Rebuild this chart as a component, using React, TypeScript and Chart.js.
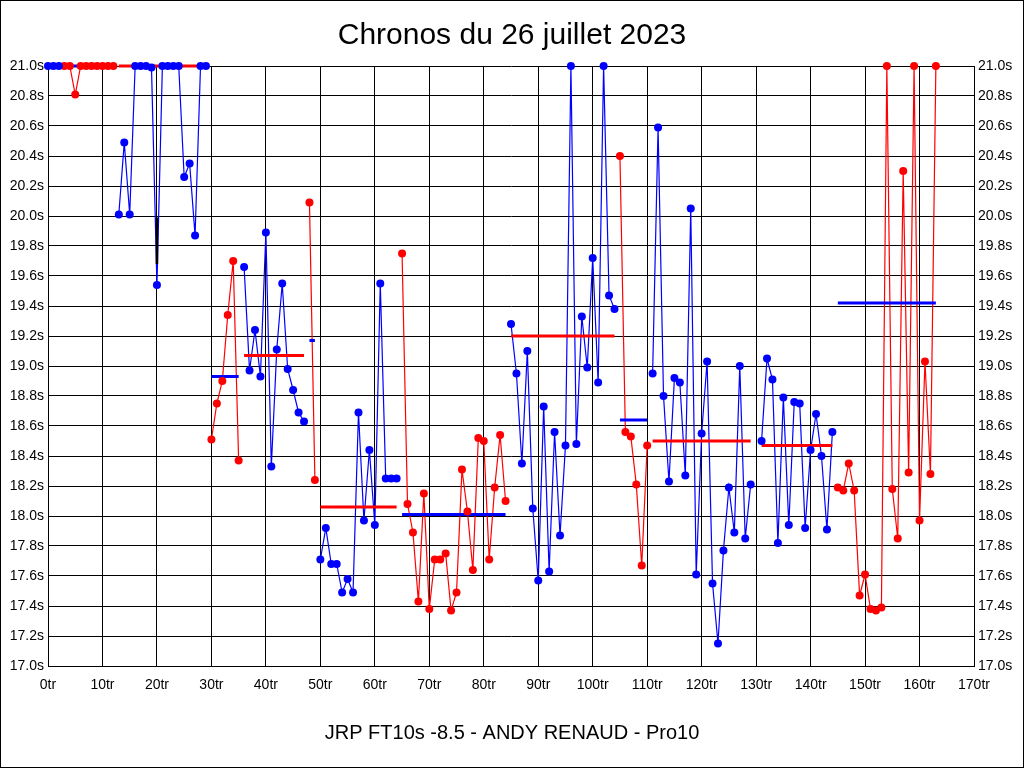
import React, { useEffect, useRef } from 'react';
import { Chart, registerables } from 'chart.js';

Chart.register(...registerables);

const TITLE = 'Chronos du 26 juillet 2023';
const SUBTITLE = 'JRP FT10s -8.5 - ANDY RENAUD - Pro10';

const X_MIN = 0;
const X_MAX = 170;
const X_STEP = 10;
const Y_MIN = 17.0;
const Y_MAX = 21.0;
const Y_STEP = 0.2;

// first lap of each run
const segStarts = [0, 3, 13, 30, 36, 48, 50, 65, 85, 105, 111, 131, 145];
// which series (0 = bleu, 1 = rouge) each run belongs to
const segSeries = [0, 1, 0, 1, 0, 1, 0, 1, 0, 1, 0, 0, 1];

// lap times of each run (seconds, clipped at 21.0 as in the picture)
const seg0 = [21.0, 21.0, 21.0];
const seg1 = [21.0, 21.0, 20.81, 21.0, 21.0, 21.0, 21.0, 21.0, 21.0, 21.0];
const seg2 = [20.01, 20.49, 20.01, 21.0, 21.0, 21.0, 20.99, 19.54, 21.0, 21.0, 21.0, 21.0, 20.26, 20.35, 19.87, 21.0, 21.0];
const seg3 = [18.51, 18.75, 18.9, 19.34, 19.7, 18.37];
const seg4 = [19.66, 18.97, 19.24, 18.93, 19.89, 18.33, 19.11, 19.55, 18.98, 18.84, 18.69, 18.63];
const seg5 = [20.09, 18.24];
const seg6 = [17.71, 17.92, 17.68, 17.68, 17.49, 17.58, 17.49, 18.69, 17.97, 18.44, 17.94, 19.55, 18.25, 18.25, 18.25];
const seg7 = [19.75, 18.08, 17.89, 17.43, 18.15, 17.38, 17.71, 17.71, 17.75, 17.37, 17.49, 18.31, 18.03, 17.64, 18.52, 18.5, 17.71, 18.19, 18.54, 18.1];
const seg8 = [19.28, 18.95, 18.35, 19.1, 18.05, 17.57, 18.73, 17.63, 18.56, 17.87, 18.47, 21.0, 18.48, 19.33, 18.99, 19.72, 18.89, 21.0, 19.47, 19.38];
const seg9 = [20.4, 18.56, 18.53, 18.21, 17.67, 18.47];
const seg10 = [18.95, 20.59, 18.8, 18.23, 18.92, 18.89, 18.27, 20.05, 17.61, 18.55, 19.03, 17.55, 17.15, 17.77, 18.19, 17.89, 19.0, 17.85, 18.21];
const seg11 = [18.5, 19.05, 18.91, 17.82, 18.79, 17.94, 18.76, 18.75, 17.92, 18.44, 18.68, 18.4, 17.91, 18.56];
const seg12 = [18.19, 18.17, 18.35, 18.17, 17.47, 17.61, 17.38, 17.37, 17.39, 21.0, 18.18, 17.85, 20.3, 18.29, 21.0, 17.97, 19.03, 18.28, 21.0];

const segValues = [seg0, seg1, seg2, seg3, seg4, seg5, seg6, seg7, seg8, seg9, seg10, seg11, seg12];

// average of each run (clipped at 21.0)
const segMeans = [21.0, 21.0, 21.0, 18.93, 19.07, 19.17, 18.06, 18.01, 19.2, 18.64, 18.5, 18.47, 19.42];

// black marker on lap 20
const markerLaps = [20, 20];
const markerValues = [19.99, 19.68];

const SERIES_COLORS = ['#0000ff', '#ff0000'];
const FONT = '"Liberation Sans", Arial, sans-serif';

const framePlugin = {
  id: 'frame',
  beforeDraw(chart: any) {
    const { ctx, width, height } = chart;
    ctx.save();
    ctx.fillStyle = '#ffffff';
    ctx.fillRect(0, 0, width, height);
    ctx.restore();
  },
  afterDraw(chart: any) {
    const { ctx, width, height } = chart;
    ctx.save();
    ctx.strokeStyle = '#000000';
    ctx.lineWidth = 1;
    ctx.strokeRect(0.5, 0.5, width - 1, height - 1);
    ctx.restore();
  },
};

export default function App() {
  const canvasRef = useRef<HTMLCanvasElement | null>(null);

  useEffect(() => {
    if (!canvasRef.current) return;
    const datasets: any[] = [];

    segValues.forEach((vals, i) => {
      const color = SERIES_COLORS[segSeries[i]];
      const other = SERIES_COLORS[1 - segSeries[i]];
      const pts = vals.map((v, k) => ({ x: segStarts[i] + k, y: v }));
      // connecting line
      datasets.push({
        type: 'scatter',
        data: pts,
        showLine: true,
        borderColor: color,
        borderWidth: 1.2,
        pointRadius: 0,
        tension: 0,
        clip: false,
        order: 3,
      });
      // mean line
      datasets.push({
        type: 'scatter',
        data: [
          { x: segStarts[i], y: segMeans[i] },
          { x: segStarts[i] + vals.length - 1, y: segMeans[i] },
        ],
        showLine: true,
        borderColor: other,
        borderWidth: 3,
        pointRadius: 0,
        clip: false,
        order: 2,
      });
      // points
      datasets.push({
        type: 'scatter',
        data: pts,
        showLine: false,
        backgroundColor: color,
        borderColor: color,
        borderWidth: 0,
        pointRadius: 4,
        clip: false,
        order: 0,
      });
    });

    datasets.push({
      type: 'scatter',
      data: markerLaps.map((x, k) => ({ x, y: markerValues[k] })),
      showLine: true,
      borderColor: '#000000',
      borderWidth: 2.5,
      pointRadius: 0,
      clip: false,
      order: 1,
    });

    const tickFont = { family: FONT, size: 14 };

    const chart = new Chart(canvasRef.current, {
      type: 'scatter',
      data: { datasets },
      plugins: [framePlugin],
      options: {
        animation: false,
        responsive: false,
        devicePixelRatio: 1,
        events: [],
        layout: { padding: { left: 0, right: 0, top: 0, bottom: 0 } },
        plugins: {
          legend: { display: false },
          tooltip: { enabled: false },
          title: {
            display: true,
            text: TITLE,
            color: '#000000',
            font: { family: FONT, size: 30, weight: 'normal', lineHeight: 1.2 },
            padding: { top: 18, bottom: 12 },
          },
          subtitle: {
            display: true,
            position: 'bottom',
            text: SUBTITLE,
            color: '#000000',
            font: { family: FONT, size: 20, weight: 'normal', lineHeight: 1.2 },
            padding: { top: 25, bottom: 23 },
          },
        },
        scales: {
          x: {
            type: 'linear',
            position: 'bottom',
            min: X_MIN,
            max: X_MAX,
            afterFit: (s: any) => { s.height = 30; },
            ticks: {
              stepSize: X_STEP,
              color: '#000000',
              font: tickFont,
              padding: 11,
              maxRotation: 0,
              autoSkip: false,
              callback: (v: any) => `${v}tr`,
            },
            grid: { color: '#000000', lineWidth: 1, drawTicks: false, tickLength: 0 },
            border: { display: true, color: '#000000', width: 1 },
          },
          y: {
            type: 'linear',
            position: 'left',
            min: Y_MIN,
            max: Y_MAX,
            afterFit: (s: any) => { s.width = 48; },
            ticks: {
              stepSize: Y_STEP,
              color: '#000000',
              font: tickFont,
              padding: 4,
              autoSkip: false,
              callback: (v: any) => `${Number(v).toFixed(1)}s`,
            },
            grid: { color: '#000000', lineWidth: 1, drawTicks: false, tickLength: 0 },
            border: { display: true, color: '#000000', width: 1 },
          },
          y2: {
            type: 'linear',
            position: 'right',
            min: Y_MIN,
            max: Y_MAX,
            afterFit: (s: any) => { s.width = 50; },
            ticks: {
              stepSize: Y_STEP,
              color: '#000000',
              font: tickFont,
              padding: 4,
              autoSkip: false,
              callback: (v: any) => `${Number(v).toFixed(1)}s`,
            },
            grid: { drawOnChartArea: false, drawTicks: false, tickLength: 0 },
            border: { display: true, color: '#000000', width: 1 },
          },
        },
      } as any,
    });
    return () => chart.destroy();
  }, []);

  return (
    <div style={{ position: 'fixed', left: 0, top: 0, width: 1024, height: 768, background: '#fff' }}>
      <canvas ref={canvasRef} width={1024} height={768} style={{ display: 'block', width: 1024, height: 768 }} />
    </div>
  );
}
